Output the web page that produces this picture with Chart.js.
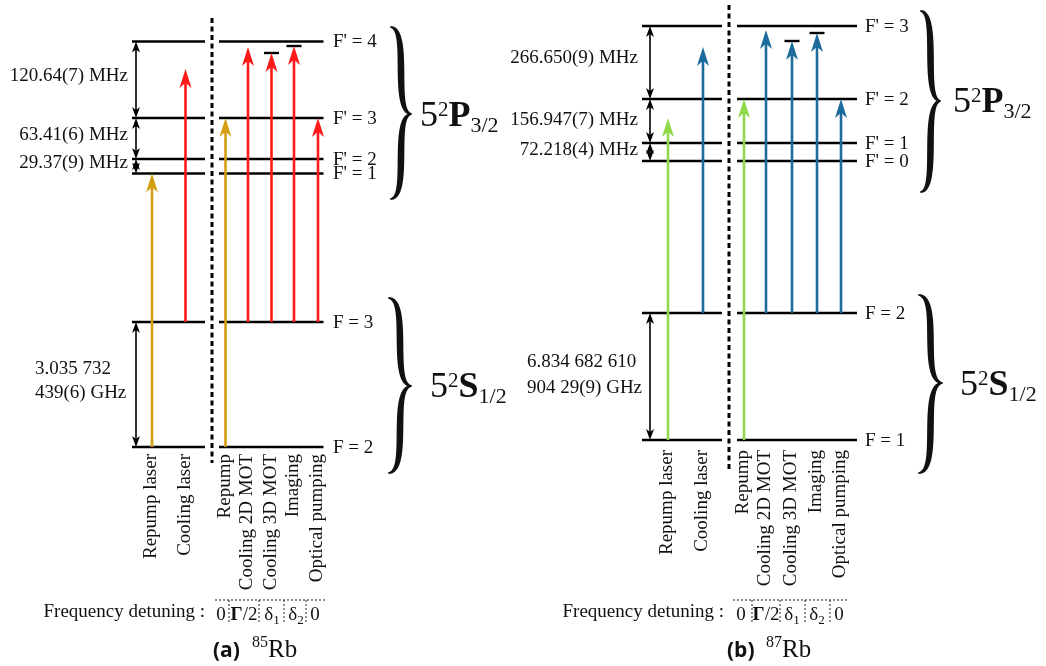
<!DOCTYPE html>
<html>
<head>
<meta charset="utf-8">
<script src="https://cdn.jsdelivr.net/npm/chart.js@4.4.0/dist/chart.umd.min.js"></script>
<style>
  html, body { margin: 0; padding: 0; background: #fff; }
</style>
</head>
<body>
<canvas id="diagrama" width="1046" height="666"></canvas>
<script>
// Niveis hiperfinos (altura de cada nivel no diagrama)
const rotulosA = ["F' = 4", "F' = 3", "F' = 2", "F' = 1", "F = 3", "F = 2"];
const niveisA = [41.5, 118, 159, 173.5, 322, 447];
const rotulosB = ["F' = 3", "F' = 2", "F' = 1", "F' = 0", "F = 2", "F = 1"];
const niveisB = [26, 99, 143, 161, 313, 440];

// Intervalos entre niveis
const intervalosA = ["120.64(7) MHz", "63.41(6) MHz", "29.37(9) MHz"];
const intervalosB = ["266.650(9) MHz", "156.947(7) MHz", "72.218(4) MHz"];
const fundamentalA = ["3.035 732", "439(6) GHz"];
const fundamentalB = ["6.834 682 610", "904 29(9) GHz"];

// Lasers e feixes
const nomesLasers = ["Repump laser", "Cooling laser"];
const nomesFeixes = ["Repump", "Cooling 2D MOT", "Cooling 3D MOT", "Imaging", "Optical pumping"];
const dessintonia = ["0", "Γ/2", "δ1", "δ2", "0"];
const origemLasers = [5, 4]; // indice do nivel de partida
const origemFeixes = [5, 4, 4, 4, 4];

const lasersXA = [152, 185.5];
const lasersTopoA = [173.5, 69];
const feixesXA = [225.5, 248, 271.5, 294, 318];
const feixesTopoA = [118, 47, 53, 46, 118];

const lasersXB = [668, 703];
const lasersTopoB = [118, 47];
const feixesXB = [744, 766, 792, 817, 841];
const feixesTopoB = [99, 30, 41, 33, 99];

const COR = { vermelho: '#ff1818', ouro: '#d49e12', azul: '#1b6b9c', verde: '#92d84c' };
const SERIF = '"Liberation Serif", "Times New Roman", serif';

const paineis = [
  {
    niveis: niveisA, rotulos: rotulosA, intervalos: intervalosA, fundamental: fundamentalA,
    lasersX: lasersXA, lasersTopo: lasersTopoA, feixesX: feixesXA, feixesTopo: feixesTopoA,
    corRepump: COR.ouro, corCooling: COR.vermelho, letra: '(a)', isotopo: '85',
    esq: [132, 205], dir: [219, 323.5], xRotulo: 333, xSeta: 136, xDivisor: 212, divisor: [18, 463],
    xIntervalo: 128, yIntervalo: [76, 135, 163], xFund: 35, yFund: [369, 393], yVertical: 454,
    xDetLabel: 205, tabela: [215, 325], separadores: [229, 259, 284, 306], xValores: [221, 244, 272, 296, 315],
    xLegenda: 213,
    chaves: [[390, 22, 27, 199, 114], [388, 24, 298, 473, 386]],
    termos: [[420, 126, 'P', '3/2'], [430, 397, 'S', '1/2']]
  },
  {
    niveis: niveisB, rotulos: rotulosB, intervalos: intervalosB, fundamental: fundamentalB,
    lasersX: lasersXB, lasersTopo: lasersTopoB, feixesX: feixesXB, feixesTopo: feixesTopoB,
    corRepump: COR.verde, corCooling: COR.azul, letra: '(b)', isotopo: '87',
    esq: [642, 722], dir: [737, 857], xRotulo: 865, xSeta: 650, xDivisor: 729, divisor: [5, 470],
    xIntervalo: 638, yIntervalo: [58, 120, 150], xFund: 527, yFund: [362, 388], yVertical: 450,
    xDetLabel: 724, tabela: [733, 848], separadores: [752, 780, 805, 830], xValores: [741, 766, 792, 817, 839],
    xLegenda: 727,
    chaves: [[920, 21, 11, 192, 101], [918, 25, 295, 473, 383]],
    termos: [[953, 112, 'P', '3/2'], [960, 395, 'S', '1/2']]
  }
];

function linha(x0, x1, y0, y1, cor, largura, extra) {
  return Object.assign({
    data: [{ x: x0, y: y0 }, { x: x1, y: y1 }],
    showLine: true, borderColor: cor, backgroundColor: cor, borderWidth: largura,
    pointRadius: 0, fill: false, order: 1
  }, extra || {});
}

// Monta os datasets
const datasets = [];
paineis.forEach(p => {
  p.niveis.forEach(y => {
    datasets.push(linha(p.esq[0], p.esq[1], y, y, '#000', 2.6));
    datasets.push(linha(p.dir[0], p.dir[1], y, y, '#000', 2.6));
  });
  datasets.push(linha(p.xDivisor, p.xDivisor, p.divisor[0], p.divisor[1], '#000', 3, { borderDash: [5, 3.5] }));

  [[0, 1], [1, 2], [2, 3], [4, 5]].forEach(([a, b]) => {
    const ya = p.niveis[a], yb = p.niveis[b];
    datasets.push(linha(p.xSeta, p.xSeta, ya + 3, yb - 3, '#000', 1.6, { seta: 'dupla', de: ya, ate: yb, order: 0 }));
  });

  p.lasersX.forEach((x, i) => {
    const cor = i === 0 ? p.corRepump : p.corCooling;
    datasets.push(linha(x, x, p.niveis[origemLasers[i]], p.lasersTopo[i] + 12, cor, 2.6, { seta: 'simples', ponta: p.lasersTopo[i], order: 0 }));
  });
  p.feixesX.forEach((x, i) => {
    const cor = i === 0 ? p.corRepump : p.corCooling;
    datasets.push(linha(x, x, p.niveis[origemFeixes[i]], p.feixesTopo[i] + 12, cor, 2.6, { seta: 'simples', ponta: p.feixesTopo[i], order: 0 }));
  });
  // barras de dessintonia
  [2, 3].forEach(i => {
    datasets.push(linha(p.feixesX[i] - 7.5, p.feixesX[i] + 7.5, p.feixesTopo[i], p.feixesTopo[i], '#000', 2.4));
  });
  // tabela pontilhada
  datasets.push(linha(p.tabela[0], p.tabela[1], 600, 600, '#222', 1, { borderDash: [2, 2] }));
  p.separadores.forEach(x => datasets.push(linha(x, x, 600, 623, '#222', 1, { borderDash: [2, 2] })));
});

function desenharPonta(ctx, x, y, dir, comp, larg) {
  // dir = -1 aponta para cima, +1 para baixo
  ctx.beginPath();
  ctx.moveTo(x, y);
  ctx.lineTo(x - larg, y - dir * comp);
  ctx.lineTo(x, y - dir * comp * 0.72);
  ctx.lineTo(x + larg, y - dir * comp);
  ctx.closePath();
  ctx.fill();
}

function bezier(p, t) {
  const u = 1 - t;
  return [0, 1].map(k => u * u * u * p[0][k] + 3 * u * u * t * p[1][k] + 3 * u * t * t * p[2][k] + t * t * t * p[3][k]);
}
function derivada(p, t) {
  const u = 1 - t;
  return [0, 1].map(k => 3 * u * u * (p[1][k] - p[0][k]) + 6 * u * t * (p[2][k] - p[1][k]) + 3 * t * t * (p[3][k] - p[2][k]));
}

function desenharChave(ctx, x0, w, y0, y1, ym) {
  const metades = [
    [[x0, y0], [x0 + 0.95 * w, y0], [x0 + 0.05 * w, ym], [x0 + w, ym]],
    [[x0 + w, ym], [x0 + 0.05 * w, ym], [x0 + 0.95 * w, y1], [x0, y1]]
  ];
  const lado1 = [], lado2 = [];
  metades.forEach(p => {
    for (let k = 0; k <= 80; k++) {
      const t = k / 80;
      const [x, y] = bezier(p, t);
      const [dx, dy] = derivada(p, t);
      const n = Math.hypot(dx, dy) || 1;
      const nx = -dy / n, ny = dx / n;
      const esp = 0.5 + 2.8 * Math.pow(Math.sin(Math.PI * t), 0.7);
      lado1.push([x + nx * esp, y + ny * esp]);
      lado2.push([x - nx * esp, y - ny * esp]);
    }
  });
  ctx.beginPath();
  ctx.moveTo(lado1[0][0], lado1[0][1]);
  lado1.forEach(pt => ctx.lineTo(pt[0], pt[1]));
  lado2.reverse().forEach(pt => ctx.lineTo(pt[0], pt[1]));
  ctx.closePath();
  ctx.fill();
}

// Texto com partes de fontes diferentes (expoentes, indices)
function textoRico(ctx, partes, x, y, alinhamento) {
  let total = 0;
  partes.forEach(pt => { ctx.font = pt.font; pt.w = ctx.measureText(pt.t).width; total += pt.w + (pt.gap || 0); });
  let cx = alinhamento === 'center' ? x - total / 2 : (alinhamento === 'right' ? x - total : x);
  ctx.textAlign = 'left';
  partes.forEach(pt => {
    cx += pt.gap || 0;
    ctx.font = pt.font;
    ctx.fillText(pt.t, cx, y + (pt.dy || 0));
    cx += pt.w;
  });
}

const pluginSetas = {
  id: 'setas',
  afterDatasetsDraw(chart) {
    const ctx = chart.ctx, sx = chart.scales.x, sy = chart.scales.y;
    chart.data.datasets.forEach(ds => {
      if (!ds.seta) return;
      ctx.save();
      ctx.fillStyle = ds.borderColor;
      const x = sx.getPixelForValue(ds.data[0].x);
      if (ds.seta === 'simples') {
        desenharPonta(ctx, x, sy.getPixelForValue(ds.ponta), -1, 19, 6);
      } else {
        desenharPonta(ctx, x, sy.getPixelForValue(ds.de), -1, 11, 4);
        desenharPonta(ctx, x, sy.getPixelForValue(ds.ate), 1, 11, 4);
      }
      ctx.restore();
    });
  }
};

const pluginTextos = {
  id: 'textos',
  afterDraw(chart) {
    const ctx = chart.ctx, sx = chart.scales.x, sy = chart.scales.y;
    const X = v => sx.getPixelForValue(v), Y = v => sy.getPixelForValue(v);
    ctx.save();
    ctx.fillStyle = '#111';
    paineis.forEach(p => {
      // rotulos F
      ctx.font = '19px ' + SERIF;
      ctx.textBaseline = 'middle';
      ctx.textAlign = 'left';
      p.rotulos.forEach((r, i) => ctx.fillText(r, X(p.xRotulo), Y(p.niveis[i]) + 1));
      // intervalos
      ctx.textAlign = 'right';
      p.intervalos.forEach((t, i) => ctx.fillText(t, X(p.xIntervalo), Y(p.yIntervalo[i])));
      ctx.textAlign = 'left';
      p.fundamental.forEach((t, i) => ctx.fillText(t, X(p.xFund), Y(p.yFund[i])));

      // nomes verticais
      ctx.textBaseline = 'alphabetic';
      ctx.textAlign = 'right';
      const verticais = nomesLasers.map((n, i) => [n, p.lasersX[i]]).concat(nomesFeixes.map((n, i) => [n, p.feixesX[i]]));
      verticais.forEach(([n, x]) => {
        ctx.save();
        ctx.translate(X(x) + 4, Y(p.yVertical));
        ctx.rotate(-Math.PI / 2);
        ctx.fillText(n, 0, 0);
        ctx.restore();
      });

      // dessintonia
      ctx.textAlign = 'right';
      ctx.fillText('Frequency detuning :', X(p.xDetLabel), Y(617));
      dessintonia.forEach((d, i) => {
        let partes;
        if (d.startsWith('δ')) partes = [{ t: 'δ', font: '19px ' + SERIF }, { t: d.slice(1), font: '13px ' + SERIF, dy: 4 }];
        else if (d.startsWith('Γ')) partes = [{ t: 'Γ', font: 'bold 19px ' + SERIF }, { t: '/2', font: '19px ' + SERIF }];
        else partes = [{ t: d, font: '19px ' + SERIF }];
        textoRico(ctx, partes, X(p.xValores[i]), Y(620), 'center');
      });

      // legenda
      textoRico(ctx, [{ t: p.letra, font: 'bold 21px "Open Sans", sans-serif' }], X(p.xLegenda), Y(657), 'left');
      textoRico(ctx, [{ t: p.isotopo, font: '16px ' + SERIF, dy: -10 }, { t: 'Rb', font: '25px ' + SERIF }], X(p.xLegenda + 39), Y(657), 'left');

      // chaves e termos
      p.chaves.forEach(c => desenharChave(ctx, X(c[0]), X(c[0] + c[1]) - X(c[0]), Y(c[2]), Y(c[3]), Y(c[4])));
      p.termos.forEach(([x, y, letra, sub]) => {
        textoRico(ctx, [
          { t: '5', font: '36px ' + SERIF },
          { t: '2', font: '21px ' + SERIF, dy: -10 },
          { t: letra, font: 'bold 36px ' + SERIF },
          { t: sub, font: '22px ' + SERIF, dy: 6 }
        ], X(x), Y(y), 'left');
      });
    });
    ctx.restore();
  }
};

new Chart(document.getElementById('diagrama'), {
  type: 'scatter',
  data: { datasets: datasets },
  options: {
    responsive: false,
    animation: false,
    events: [],
    devicePixelRatio: 1,
    layout: { padding: 0 },
    plugins: { legend: { display: false }, tooltip: { enabled: false } },
    scales: {
      x: { type: 'linear', min: 0, max: 1046, display: false },
      y: { type: 'linear', min: 0, max: 666, reverse: true, display: false }
    }
  },
  plugins: [pluginSetas, pluginTextos]
});
</script>
</body>
</html>
